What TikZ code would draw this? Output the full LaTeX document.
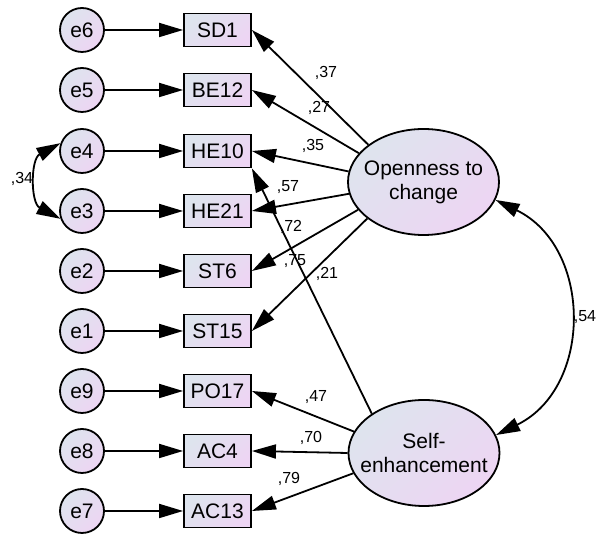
\documentclass[tikz,border=0pt]{standalone}
\usepackage{fontspec}
\setmainfont{Liberation Sans}
\usetikzlibrary{arrows.meta,shapes.geometric}
\definecolor{fillA}{HTML}{DEE4EE}
\definecolor{fillB}{HTML}{EDD5F3}
\begin{document}
\begin{tikzpicture}[x=1pt,y=1pt,
  gradfill/.style={left color=fillA,right color=fillB,shading angle=45},
  errnode/.style={circle,draw,line width=1.8pt,minimum size=44pt,inner sep=0pt,
    gradfill,font=\fontsize{21}{24}\selectfont},
  obsnode/.style={rectangle,draw,line width=1.8pt,minimum width=67pt,minimum height=33pt,
    inner sep=0pt,gradfill,font=\fontsize{21}{24}\selectfont},
  latnode/.style={ellipse,draw,line width=1.8pt,minimum width=151pt,minimum height=106pt,
    inner sep=0pt,gradfill},
  lattext/.style={align=center,inner sep=0pt,font=\fontsize{21}{24}\selectfont},
  reg/.style={line width=1.8pt,-{Triangle[length=24pt,width=14pt]}},
  cov/.style={line width=1.8pt,{Triangle[length=24pt,width=14pt]}-{Triangle[length=24pt,width=14pt]}},
  coef/.style={inner sep=0pt,font=\fontsize{16}{18}\selectfont}]
\useasboundingbox (0,0) rectangle (597,534);

% error terms
\node[errnode] (e6) at (82,504) {e6};
\node[errnode] (e5) at (82,444) {e5};
\node[errnode] (e4) at (82,383) {e4};
\node[errnode] (e3) at (82,323) {e3};
\node[errnode] (e2) at (82,263) {e2};
\node[errnode] (e1) at (82,203) {e1};
\node[errnode] (e9) at (82,143) {e9};
\node[errnode] (e8) at (82,83) {e8};
\node[errnode] (e7) at (82,23) {e7};

% observed items
\node[obsnode] (sd1) at (217.5,504) {SD1};
\node[obsnode] (be12) at (217.5,444) {BE12};
\node[obsnode] (he10) at (217.5,383) {HE10};
\node[obsnode] (he21) at (217.5,323) {HE21};
\node[obsnode] (st6) at (217.5,263) {ST6};
\node[obsnode] (st15) at (217.5,203) {ST15};
\node[obsnode] (po17) at (217.5,143) {PO17};
\node[obsnode] (ac4) at (217.5,83) {AC4};
\node[obsnode] (ac13) at (217.5,23) {AC13};

% latent factors
\node[latnode,label={[lattext]center:Openness to\\change}] (open) at (423.5,352) {};
\node[latnode,label={[lattext]center:Self-\\enhancement}] (self) at (424,81) {};

% error paths
\draw[reg] (e6) -- (sd1);
\draw[reg] (e5) -- (be12);
\draw[reg] (e4) -- (he10);
\draw[reg] (e3) -- (he21);
\draw[reg] (e2) -- (st6);
\draw[reg] (e1) -- (st15);
\draw[reg] (e9) -- (po17);
\draw[reg] (e8) -- (ac4);
\draw[reg] (e7) -- (ac13);

% loadings
\draw[reg] (open.146) -- (sd1.east);
\draw[reg] (open.156) -- (be12.east);
\draw[reg] (open.172) -- (he10.east);
\draw[reg] (open.189) -- (he21.east);
\draw[reg] (open.203) -- (st6.east);
\draw[reg] (open.213) -- (st15.east);
\draw[reg] (self.143) -- (he10.south east);
\draw[reg] (self.163) -- (po17.east);
\draw[reg] (self.180) -- (ac4.east);
\draw[reg] (self.196) -- (ac13.east);

% covariances
\draw[cov] (open.-14) .. controls +(-26:108) and +(26:108) .. (self.14);
\draw[cov] (e4.160) .. controls +(208:34) and +(152:34) .. (e3.200);

% coefficients
\node[coef] (c37) at (326,461) {,37};
\node[coef] (c27) at (319,426) {,27};
\node[coef] (c35) at (313,388) {,35};
\node[coef] (c57) at (288,347) {,57};
\node[coef] (c72) at (291,307) {,72};
\node[coef] (c75) at (295,273) {,75};
\node[coef] (c21) at (327,260) {,21};
\node[coef] (c47) at (316,137) {,47};
\node[coef] (c70) at (311,96) {,70};
\node[coef] (c79) at (289,55) {,79};
\node[coef] (c54) at (585,217) {,54};
\node[coef] (c34) at (22,355) {,34};
\end{tikzpicture}
\end{document}
